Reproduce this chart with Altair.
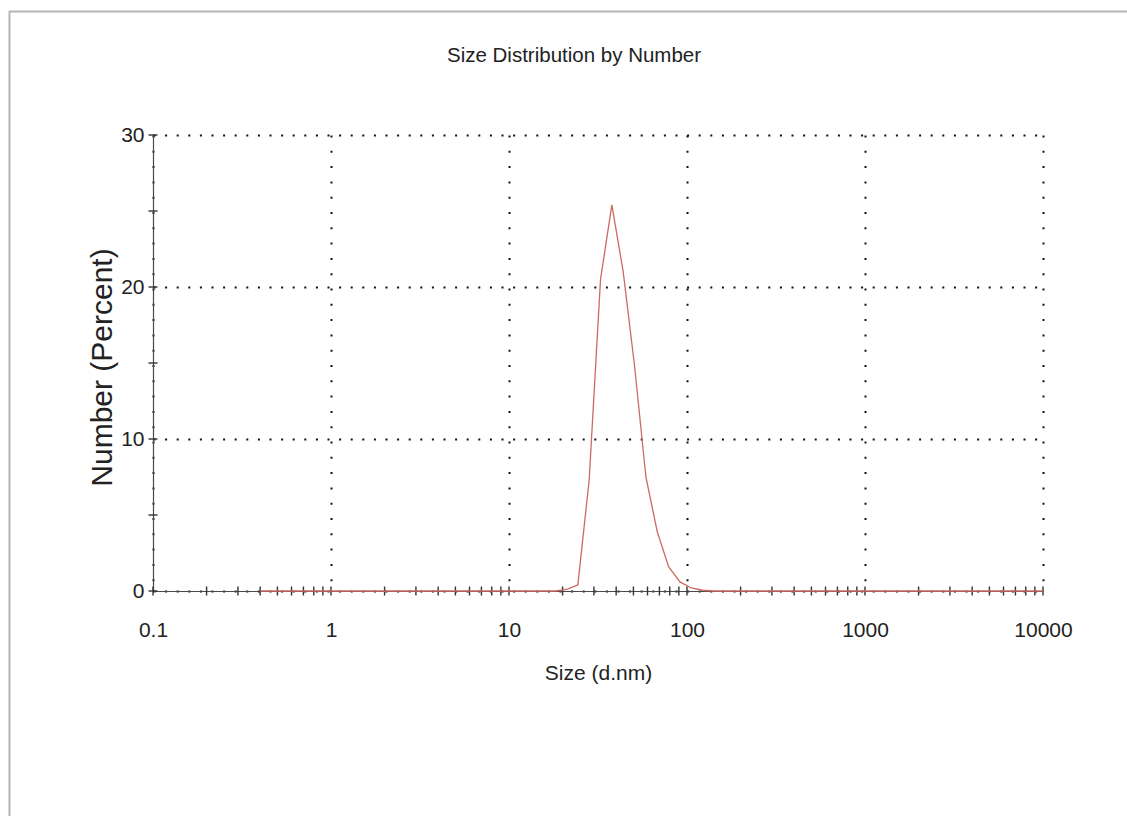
import altair as alt
import pandas as pd

# ---- data ----
sizes = [0.4, 18.17, 21.04, 24.36, 28.21, 32.67, 37.84, 43.82, 50.75, 58.77,
         68.06, 78.82, 91.28, 105.7, 122.4, 141.8, 10000]
number_pct = [0, 0, 0.1, 0.4, 7.3, 20.5, 25.4, 21.0, 14.8, 7.5,
              3.9, 1.6, 0.6, 0.2, 0.05, 0, 0]

x_major = [0.1, 1, 10, 100, 1000, 10000]
y_major = [0, 10, 20, 30]
y_tick_values = [0, 5, 10, 15, 20, 25, 30]
mantissas = [1, 2, 3, 4, 5, 6, 7, 8, 9]
decades = [0.1, 1, 10, 100, 1000]
x_tick_values = [m * d for d in decades for m in mantissas] + [10000]

title_text = "Size Distribution by Number"
x_title = "Size (d.nm)"
y_title = "Number (Percent)"

df = pd.DataFrame({"size": sizes, "pct": number_pct})
xt = pd.DataFrame({"t": x_tick_values})
yt = pd.DataFrame({"t": y_tick_values})
one = pd.DataFrame({"k": [0]})

W, H = 890, 456
FONT = "Liberation Sans, Arial, sans-serif"
TXT = "#222222"
AX = "#4a4a4a"

x_scale = alt.Scale(type="log", domain=[0.1, 10000], nice=False)
y_scale = alt.Scale(domain=[0, 30], nice=False, zero=False)

x_axis = alt.Axis(
    values=x_major, format="~g", title=x_title,
    grid=True, gridColor="#111111", gridDash=[2, 13.3], gridWidth=2,
    ticks=False, domainColor=AX, domainWidth=1.2,
    labelFont=FONT, labelFontSize=21, labelColor=TXT, labelPadding=28,
    labelFlush=False, labelOverlap=False,
    titleFont=FONT, titleFontSize=21, titleFontWeight="normal", titleColor=TXT,
    titleX=W / 2, titleY=88, titleAlign="center", titleBaseline="alphabetic",
)
y_axis = alt.Axis(
    values=y_major, title=y_title,
    grid=True, gridColor="#111111", gridDash=[2, 9.6], gridWidth=2,
    ticks=False, domainColor=AX, domainWidth=1.2,
    labelFont=FONT, labelFontSize=21, labelColor=TXT, labelPadding=9,
    labelFlush=False, labelOverlap=False,
    titleFont=FONT, titleFontSize=30, titleFontWeight="normal", titleColor=TXT,
    titleX=-51, titleY=H / 2 + 4, titleAngle=270, titleAlign="center",
    titleBaseline="middle",
)

line = alt.Chart(df).mark_line(color="#cc6a62", strokeWidth=1.3).encode(
    x=alt.X("size:Q", scale=x_scale, axis=x_axis),
    y=alt.Y("pct:Q", scale=y_scale, axis=y_axis),
)

x_ticks = alt.Chart(xt).mark_tick(
    orient="vertical", size=9, thickness=1.4, color="#333333", opacity=1
).encode(
    x=alt.X("t:Q", scale=x_scale),
    y=alt.datum(0),
)
y_ticks = alt.Chart(yt).mark_tick(
    orient="horizontal", size=9, thickness=1.4, color="#333333", opacity=1
).encode(
    y=alt.Y("t:Q", scale=y_scale),
    x=alt.datum(0.1),
)

title = alt.Chart(one).mark_text(
    text=title_text, font=FONT, fontSize=20.5, align="center",
    baseline="alphabetic", color=TXT,
).encode(x=alt.value(421), y=alt.value(-73))

frame_top = alt.Chart(one).mark_rule(color="#b4b4b4", strokeWidth=2).encode(
    x=alt.value(-144), x2=alt.value(974), y=alt.value(-123.5)
)
frame_left = alt.Chart(one).mark_rule(color="#b4b4b4", strokeWidth=2).encode(
    x=alt.value(-143.5), y=alt.value(-124), y2=alt.value(681)
)

chart = alt.layer(
    frame_top, frame_left, x_ticks, y_ticks, line, title
).properties(
    width=W, height=H,
    autosize=alt.AutoSizeParams(type="none"),
    padding={"left": 153, "top": 135, "right": 84, "bottom": 225},
    background="white",
).configure_view(stroke=None)

chart.save("out.html", embed_options={"renderer": "svg", "actions": False})
